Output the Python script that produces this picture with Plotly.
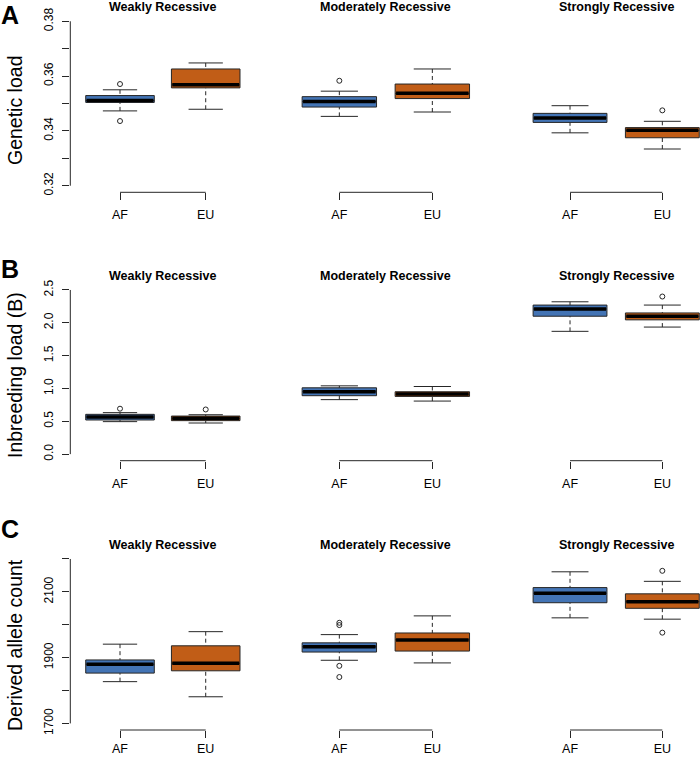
import plotly.graph_objects as go

W, H = 700, 758
FONT = "Liberation Sans, Arial, Helvetica, sans-serif"

CATEGORIES = ["Weakly Recessive", "Moderately Recessive", "Strongly Recessive"]
POPULATIONS = ["AF", "EU"]
POP_COLORS = {"AF": "#4374B5", "EU": "#C15D17"}

# five-number summaries per category: (lower whisker, Q1, median, Q3, upper whisker)
GENETIC_LOAD_AF = [(0.3473, 0.3504, 0.3511, 0.3529, 0.3550),
                   (0.3453, 0.3487, 0.3507, 0.3525, 0.3545),
                   (0.3393, 0.3431, 0.3447, 0.3464, 0.3492)]
GENETIC_LOAD_EU = [(0.3479, 0.3557, 0.3568, 0.3626, 0.3648),
                   (0.3469, 0.3518, 0.3537, 0.3571, 0.3626),
                   (0.3334, 0.3375, 0.3402, 0.3412, 0.3435)]
GENETIC_LOAD_AF_OUT = [[0.3571, 0.3436], [0.3583], []]
GENETIC_LOAD_EU_OUT = [[], [], [0.3475]]
GENETIC_LOAD_TICKS = [0.32, 0.33, 0.34, 0.35, 0.36, 0.37, 0.38]
GENETIC_LOAD_LABELS = ["0.32", "", "0.34", "", "0.36", "", "0.38"]

INBREEDING_AF = [(0.495, 0.520, 0.565, 0.606, 0.632),
                 (0.830, 0.890, 0.950, 1.010, 1.040),
                 (1.870, 2.100, 2.210, 2.270, 2.320)]
INBREEDING_EU = [(0.474, 0.510, 0.545, 0.580, 0.600),
                 (0.808, 0.879, 0.914, 0.950, 1.030),
                 (1.935, 2.045, 2.100, 2.150, 2.270)]
INBREEDING_AF_OUT = [[0.692], [], []]
INBREEDING_EU_OUT = [[0.680], [], [2.400]]
INBREEDING_TICKS = [0.0, 0.5, 1.0, 1.5, 2.0, 2.5]
INBREEDING_LABELS = ["0.0", "0.5", "1.0", "1.5", "2.0", "2.5"]

DERIVED_AF = [(1827, 1853, 1880, 1893, 1941),
              (1892, 1917, 1933, 1945, 1970),
              (2021, 2067, 2096, 2113, 2161)]
DERIVED_EU = [(1781, 1860, 1883, 1936, 1979),
              (1884, 1920, 1954, 1975, 2027),
              (2017, 2050, 2070, 2094, 2132)]
DERIVED_AF_OUT = [[], [2006, 1999, 1875, 1841], []]
DERIVED_EU_OUT = [[], [], [2164, 1976]]
DERIVED_TICKS = [1700, 1800, 1900, 2000, 2100, 2200]
DERIVED_LABELS = ["1700", "", "1900", "", "2100", ""]

PANELS = [
    dict(letter="A", ytitle="Genetic load",
         stats={"AF": GENETIC_LOAD_AF, "EU": GENETIC_LOAD_EU},
         out={"AF": GENETIC_LOAD_AF_OUT, "EU": GENETIC_LOAD_EU_OUT},
         ticks=GENETIC_LOAD_TICKS, labels=GENETIC_LOAD_LABELS),
    dict(letter="B", ytitle="Inbreeding load (B)",
         stats={"AF": INBREEDING_AF, "EU": INBREEDING_EU},
         out={"AF": INBREEDING_AF_OUT, "EU": INBREEDING_EU_OUT},
         ticks=INBREEDING_TICKS, labels=INBREEDING_LABELS),
    dict(letter="C", ytitle="Derived allele count",
         stats={"AF": DERIVED_AF, "EU": DERIVED_EU},
         out={"AF": DERIVED_AF_OUT, "EU": DERIVED_EU_OUT},
         ticks=DERIVED_TICKS, labels=DERIVED_LABELS),
]

# ---- layout geometry (pixels) ----
ROW_PX = [(14.7, 192.3), (283.4, 460.7), (552.4, 730.0)]          # top, bottom of plot regions
COL_PX = [(70.3, 255.4), (285.4, 486.3), (516.5, 700.0)]          # left, right of plot regions
COL_UNIT_PX = [85.7, 93.0, 92.3]                                   # px per category step
XLABEL_STANDOFF = [4, 4, 0]
LETTER_Y = [14.5, 268.5, 529.0]
YTITLE_Y = [110.0, 375.0, 645.0]

INK = "#262626"
BOX_HALF = 0.4
STAPLE_HALF = 0.2


def ypaper(px):
    return 1 - px / H


def xpaper(px):
    return px / W


fig = go.Figure()
layout = dict(width=W, height=H, margin=dict(l=0, r=0, t=0, b=0, autoexpand=False),
              paper_bgcolor="white", plot_bgcolor="white", showlegend=False,
              font=dict(family=FONT, color="black"))
shapes, annotations = [], []

for r, panel in enumerate(PANELS):
    ticks = panel["ticks"]
    span = ticks[-1] - ticks[0]
    yrange = [ticks[0] - 0.04 * span, ticks[-1] + 0.04 * span]
    for c, cat in enumerate(CATEGORIES):
        k = r * 3 + c + 1
        sx = "" if k == 1 else str(k)
        xa, ya = "x" + sx, "y" + sx
        for i, pop in enumerate(POPULATIONS):
            lo, q1, med, q3, hi = panel["stats"][pop][c]
            col = POP_COLORS[pop]
            fig.add_trace(go.Box(
                x=[i], q1=[q1], median=[med], q3=[q3], lowerfence=[q1], upperfence=[q3],
                width=2 * BOX_HALF, whiskerwidth=0, boxpoints=False,
                fillcolor=col, line=dict(color=INK, width=1),
                xaxis=xa, yaxis=ya, hoverinfo="skip", name=pop))
        for i, pop in enumerate(POPULATIONS):
            lo, q1, med, q3, hi = panel["stats"][pop][c]
            # dashed whiskers
            fig.add_trace(go.Scatter(
                x=[i, i, None, i, i], y=[hi, q3, None, lo, q1], mode="lines",
                line=dict(color=INK, width=1, dash="4px,3px"),
                xaxis=xa, yaxis=ya, hoverinfo="skip"))
            # staples
            fig.add_trace(go.Scatter(
                x=[i - STAPLE_HALF, i + STAPLE_HALF, None, i - STAPLE_HALF, i + STAPLE_HALF],
                y=[hi, hi, None, lo, lo], mode="lines",
                line=dict(color=INK, width=1),
                xaxis=xa, yaxis=ya, hoverinfo="skip"))
            # thick median
            fig.add_trace(go.Scatter(
                x=[i - BOX_HALF + 0.01, i + BOX_HALF - 0.01], y=[med, med], mode="lines",
                line=dict(color="black", width=3.5),
                xaxis=xa, yaxis=ya, hoverinfo="skip"))
            outs = panel["out"][pop][c]
            if outs:
                fig.add_trace(go.Scatter(
                    x=[i] * len(outs), y=outs, mode="markers",
                    marker=dict(symbol="circle-open", size=5, color=INK, line=dict(width=1)),
                    xaxis=xa, yaxis=ya, hoverinfo="skip", cliponaxis=False))

        # axes
        x0p, x1p = COL_PX[c]
        t0p, b0p = ROW_PX[r]
        xr0 = -0.5 - 0.08
        xr1 = xr0 + (x1p - x0p) / COL_UNIT_PX[c]
        layout["xaxis" + sx] = dict(
            domain=[xpaper(x0p), xpaper(x1p)], anchor=ya, range=[xr0, xr1],
            tickmode="array", tickvals=list(range(len(POPULATIONS))), ticktext=POPULATIONS,
            ticks="outside", ticklen=7, tickwidth=1, tickcolor=INK,
            tickfont=dict(size=12.5, family=FONT, color="black"),
            ticklabelstandoff=XLABEL_STANDOFF[r], automargin=False,
            showline=False, showgrid=False, zeroline=False, fixedrange=True)
        ydict = dict(domain=[ypaper(b0p), ypaper(t0p)], anchor=xa, range=yrange,
                     automargin=False,
                     showgrid=False, zeroline=False, showline=False, fixedrange=True)
        if c == 0:
            ydict.update(tickmode="array", tickvals=ticks, ticktext=panel["labels"],
                         ticks="outside", ticklen=7, tickwidth=1, tickcolor=INK,
                         tickangle=-90, tickfont=dict(size=12, family=FONT, color="black"),
                         ticklabelstandoff=5)
            shapes.append(dict(type="line", xref=xa + " domain", yref=ya,
                               x0=0, x1=0, y0=ticks[0], y1=ticks[-1],
                               line=dict(color=INK, width=1)))
        else:
            ydict.update(showticklabels=False, ticks="")
        layout["yaxis" + sx] = ydict

        # bracket joining population ticks
        shapes.append(dict(type="line", xref=xa, yref=ya + " domain",
                           x0=0, x1=len(POPULATIONS) - 1, y0=0, y1=0,
                           line=dict(color=INK, width=1)))
        # category title
        annotations.append(dict(text="<b>%s</b>" % cat, xref=xa, yref=ya + " domain",
                                x=(len(POPULATIONS) - 1) / 2, y=1, yshift=7.5,
                                xanchor="center", yanchor="middle", showarrow=False,
                                font=dict(size=12.5, family=FONT, color="black")))

    annotations.append(dict(text="<b>%s</b>" % panel["letter"], xref="paper", yref="paper",
                            x=xpaper(9.5), y=ypaper(LETTER_Y[r]), xanchor="center",
                            yanchor="middle", showarrow=False,
                            font=dict(size=25, family=FONT, color="black")))
    annotations.append(dict(text=panel["ytitle"], xref="paper", yref="paper",
                            x=xpaper(15), y=ypaper(YTITLE_Y[r]), textangle=-90,
                            xanchor="center", yanchor="middle", showarrow=False,
                            font=dict(size=19.5, family=FONT, color="black")))

layout["shapes"] = shapes
layout["annotations"] = annotations
fig.update_layout(**layout)
fig.write_html("out.html", config={"displayModeBar": False},
               post_script="document.body.style.margin='0';document.body.style.overflow='hidden';")
